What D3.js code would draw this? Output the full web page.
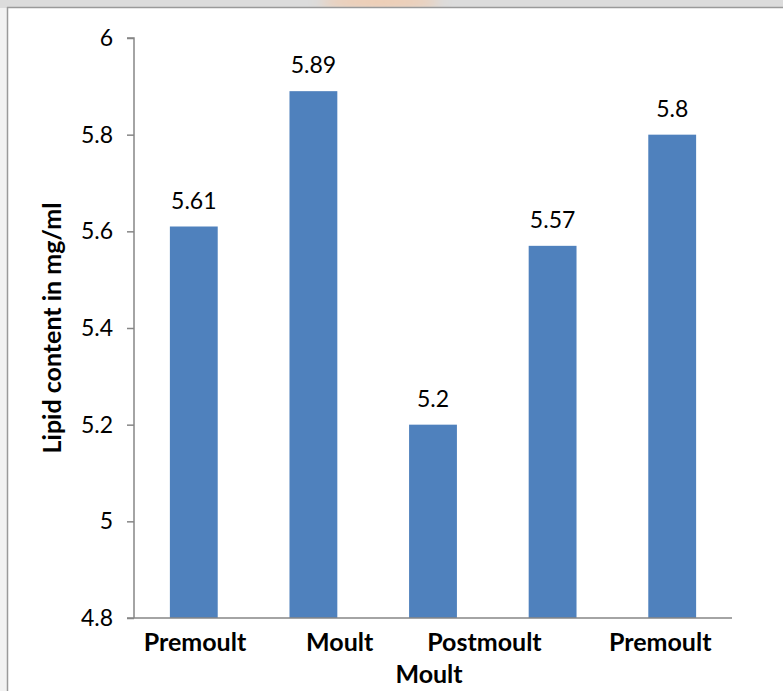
<!DOCTYPE html>
<html>
<head>
<meta charset="utf-8">
<script src="https://cdn.jsdelivr.net/npm/d3@7"></script>
<style>
  html, body { margin: 0; padding: 0; background: #fff; }
  svg { display: block; }
  text { font-family: Lato, "Open Sans", sans-serif; fill: #000; }
</style>
</head>
<body>
<svg id="chart" width="783" height="691"></svg>
<script>
// Lipid content across the moult cycle
const stages = ["Premoult", "Moult", "Postmoult", "Intermoult", "Premoult"];
const lipid = [5.61, 5.89, 5.2, 5.57, 5.8];
const axisLabels = ["Premoult", "Moult", "Postmoult", "Premoult"];
const yTicks = [4.8, 5, 5.2, 5.4, 5.6, 5.8, 6];

const W = 783, H = 691;
const plot = { left: 134, right: 732, top: 38, bottom: 618 };
const svg = d3.select("#chart");

// page frame with a soft grey strip above it
const defs = svg.append("defs");
const blur = defs.append("filter").attr("id", "soft").attr("x", "-50%").attr("y", "-200%").attr("width", "200%").attr("height", "500%");
blur.append("feGaussianBlur").attr("stdDeviation", 6);
svg.append("rect").attr("x", 0).attr("y", 0).attr("width", W).attr("height", 8).attr("fill", "#dcdcdc");
svg.append("ellipse").attr("cx", 380).attr("cy", 2).attr("rx", 60).attr("ry", 6)
  .attr("fill", "#f4c9a8").attr("filter", "url(#soft)");
svg.append("rect").attr("x", 0).attr("y", 8).attr("width", 7).attr("height", H - 8).attr("fill", "#f2f2f2");
svg.append("rect").attr("x", 7).attr("y", 8).attr("width", W - 7).attr("height", H - 8).attr("fill", "#fff");
svg.append("line").attr("x1", 7.5).attr("x2", 7.5).attr("y1", 7).attr("y2", H).attr("stroke", "#9a9a9a").attr("stroke-width", 1.5);
svg.append("line").attr("x1", 7).attr("x2", W).attr("y1", 7.5).attr("y2", 7.5).attr("stroke", "#9a9a9a").attr("stroke-width", 1.5);

const x = d3.scaleBand()
  .domain(d3.range(lipid.length))
  .range([plot.left, plot.right])
  .paddingInner(0.6)
  .paddingOuter(0.3);

const y = d3.scaleLinear().domain([4.8, 6]).range([plot.bottom, plot.top]);

// slot scale for the category captions beneath the axis
const slot = d3.scaleLinear().domain([0, lipid.length]).range([plot.left, plot.right]);
const captionSlots = [0.51, 1.72, 2.93, 4.4];

// bars
svg.append("g").selectAll("rect").data(lipid).join("rect")
  .attr("x", (d, i) => x(i))
  .attr("y", d => y(d))
  .attr("width", x.bandwidth())
  .attr("height", d => y(4.8) - y(d))
  .attr("fill", "#4f81bd");

// value labels
svg.append("g").selectAll("text").data(lipid).join("text")
  .attr("x", (d, i) => x(i) + x.bandwidth() / 2)
  .attr("y", d => y(d) - 18)
  .attr("text-anchor", "middle")
  .attr("font-size", 23)
  .text(d => d);

// y axis
const yAxis = svg.append("g")
  .attr("transform", `translate(${plot.left},0)`)
  .call(d3.axisLeft(y).tickValues(yTicks).tickSize(7).tickPadding(14).tickFormat(d3.format("")));
yAxis.select(".domain").attr("stroke", "#868686").attr("stroke-width", 1.5).attr("d", `M-7,${plot.top}H0V${plot.bottom}`);
yAxis.selectAll(".tick line").attr("stroke", "#868686").attr("stroke-width", 1.5);
yAxis.selectAll(".tick text").attr("font-size", 23).attr("font-family", "Lato, sans-serif").attr("fill", "#000");

// x axis baseline
svg.append("line")
  .attr("x1", plot.left - 7).attr("x2", plot.right)
  .attr("y1", plot.bottom).attr("y2", plot.bottom)
  .attr("stroke", "#868686").attr("stroke-width", 1.5);

// category captions
svg.append("g").selectAll("text").data(axisLabels).join("text")
  .attr("x", (d, i) => slot(captionSlots[i]))
  .attr("y", 651)
  .attr("text-anchor", "middle")
  .attr("font-size", 25)
  .attr("font-weight", "bold")
  .text(d => d);

// axis titles
svg.append("text")
  .attr("x", 429).attr("y", 683)
  .attr("text-anchor", "middle")
  .attr("font-size", 25).attr("font-weight", "bold")
  .text("Moult");

svg.append("text")
  .attr("transform", `translate(61,328) rotate(-90)`)
  .attr("text-anchor", "middle")
  .attr("font-size", 25).attr("font-weight", "bold")
  .text("Lipid content in mg/ml");
</script>
</body>
</html>
